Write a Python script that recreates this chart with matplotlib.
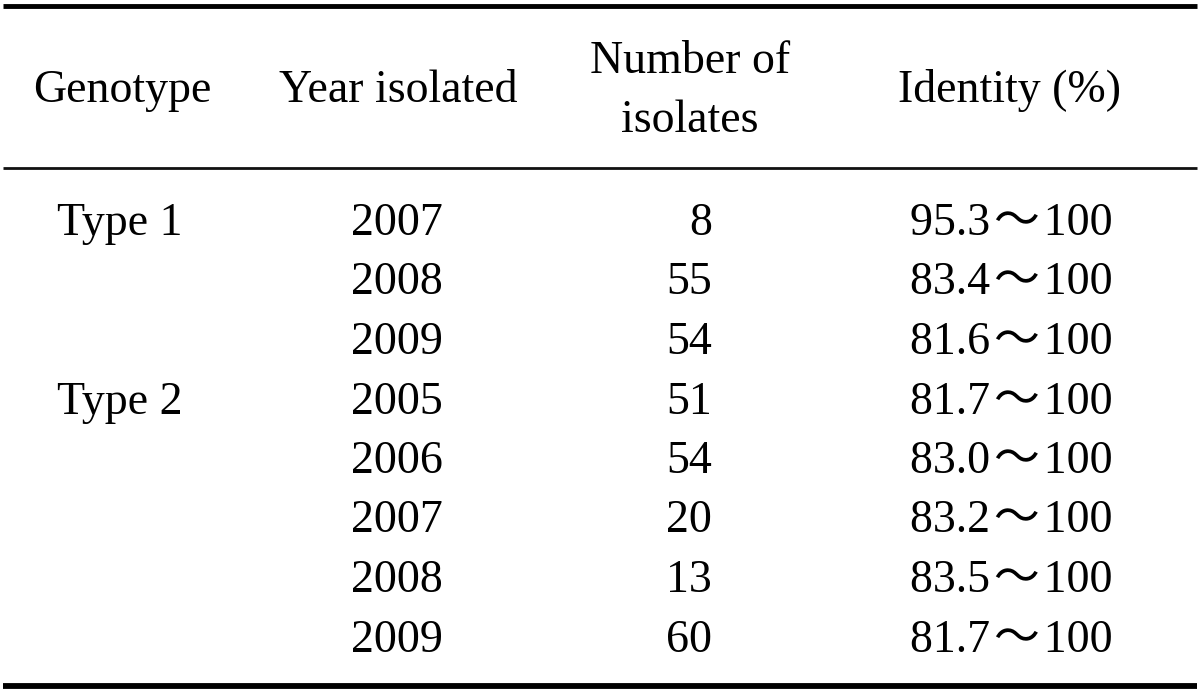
import matplotlib.pyplot as plt

genotypes = ["Type 1", "", "", "Type 2", "", "", "", ""]
years = ["2007", "2008", "2009", "2005", "2006", "2007", "2008", "2009"]
n_isolates = [8, 55, 54, 51, 54, 20, 13, 60]
id_low = ["95.3", "83.4", "81.6", "81.7", "83.0", "83.2", "83.5", "81.7"]
id_high = ["100"] * 8
headers = ["Genotype", "Year isolated", "Number of", "Identity (%)"]

W, H = 1200, 693
fig = plt.figure(figsize=(W / 100, H / 100), dpi=100)
ax = fig.add_axes([0, 0, 1, 1])
ax.set_xlim(0, W)
ax.set_ylim(H, 0)
ax.axis("off")

fam = ["Liberation Serif", "Noto Sans CJK JP", "DejaVu Sans"]
fs = 33

# rules
ax.plot([3, 1197], [5.7, 5.7], color="black", lw=3.5, solid_capstyle="butt")
ax.plot([3, 1197], [167.7, 167.7], color="#111111", lw=2.0, solid_capstyle="butt")
ax.plot([3, 1197], [686, 686], color="black", lw=4.2, solid_capstyle="butt")

# header (baselines)
hx = [122, 398, 690, 1010]
hy = [101.7, 101.7, 73.3, 101.7]
for x, y, h in zip(hx, hy, headers):
    ax.text(x, y, h, ha="center", va="baseline", fontsize=fs, family=fam)
ax.text(690, 131.7, "isolates", ha="center", va="baseline", fontsize=fs, family=fam)

# rows
y0, dy = 235, 59.5
sep = "\u200a～\u200a"
for i in range(len(years)):
    y = y0 + i * dy
    if genotypes[i]:
        ax.text(57, y, genotypes[i], ha="left", va="baseline", fontsize=fs, family=fam)
    ax.text(396.5, y, years[i], ha="center", va="baseline", fontsize=fs, family=fam)
    ax.text(712, y, str(n_isolates[i]), ha="right", va="baseline", fontsize=fs, family=fam)
    ax.text(1011, y, id_low[i] + sep + id_high[i], ha="center", va="baseline",
            fontsize=fs, family=fam)

fig.savefig("out.png", dpi=100)
